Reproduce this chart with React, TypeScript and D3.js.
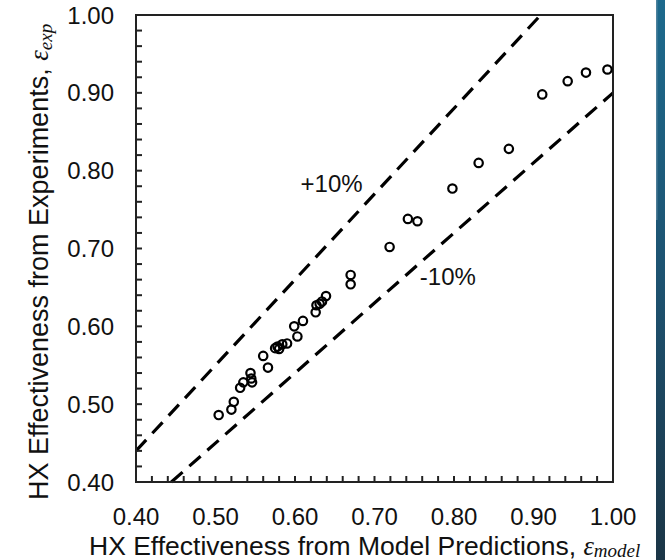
import React from "react";
import * as d3 from "d3";

const modelEff = [0.504, 0.52, 0.523, 0.531, 0.535, 0.544, 0.545, 0.546, 0.56, 0.566, 0.575, 0.578, 0.58, 0.584, 0.59, 0.599, 0.603, 0.61, 0.626, 0.627, 0.631, 0.634, 0.639, 0.67, 0.67, 0.719, 0.742, 0.754, 0.798, 0.831, 0.869, 0.911, 0.943, 0.966, 0.993];
const expEff = [0.486, 0.493, 0.503, 0.521, 0.528, 0.54, 0.533, 0.528, 0.562, 0.547, 0.572, 0.574, 0.571, 0.577, 0.578, 0.6, 0.587, 0.607, 0.618, 0.627, 0.629, 0.632, 0.639, 0.666, 0.654, 0.702, 0.738, 0.735, 0.777, 0.81, 0.828, 0.898, 0.915, 0.926, 0.93];
const tickValues = [0.4, 0.5, 0.6, 0.7, 0.8, 0.9, 1.0];
const bandFactors = [1.1, 0.9];
const bandLabels = ["+10%", "-10%"];
const bandLabelAt = [[0.607, 0.773], [0.757, 0.653]];

const W = 665, H = 560;
const L = 136, R = 613, T = 15, B = 482;

export default function App() {
  const x = d3.scaleLinear().domain([0.4, 1.0]).range([L, R]);
  const y = d3.scaleLinear().domain([0.4, 1.0]).range([B, T]);
  const minor = d3.range(0.42, 1.0, 0.02);
  const font = "'Liberation Sans', Arial, sans-serif";
  const serif = "'Liberation Serif', 'DejaVu Serif', serif";
  const line = d3.line<[number, number]>().x((d) => x(d[0])).y((d) => y(d[1]));
  const bandSegs = bandFactors.map((f) => {
    const x0 = Math.max(0.4, 0.4 / f);
    const x1 = Math.min(1.0, 1.0 / f);
    return [[x0, x0 * f], [x1, x1 * f]] as [number, number][];
  });
  return (
    <svg width={W} height={H} style={{ position: "absolute", left: 0, top: 0, background: "#fff" }}>
      <defs>
        <linearGradient id="stripe" x1="0" y1="0" x2="0" y2="1">
          <stop offset="0" stopColor="#1d6a8d" />
          <stop offset="0.5" stopColor="#1d5270" />
          <stop offset="1" stopColor="#1b3546" />
        </linearGradient>
      </defs>
      <rect x={656} y={0} width={9} height={H} fill="url(#stripe)" />
      <rect x={656} y={0} width={1.5} height={220} fill="#6d93aa" opacity={0.6} />
      {bandSegs.map((s, i) => (
        <path key={i} d={line(s) || ""} fill="none" stroke="#000" strokeWidth={3.2} strokeDasharray="15,9" />
      ))}
      {minor.map((v, i) => (
        <g key={i}>
          <line x1={L} x2={L + 6} y1={y(v)} y2={y(v)} stroke="#222" strokeWidth={2} />
          <line x1={x(v)} x2={x(v)} y1={B} y2={B - 6} stroke="#222" strokeWidth={2} />
        </g>
      ))}
      <rect x={L} y={T} width={R - L} height={B - T} fill="none" stroke="#222" strokeWidth={2} />
      {modelEff.map((m, i) => (
        <circle key={i} cx={x(m)} cy={y(expEff[i])} r={4.2} fill="none" stroke="#000" strokeWidth={2.2} />
      ))}
      {tickValues.map((v, i) => (
        <text key={"y" + i} x={114} y={y(v)} dy="0.36em" textAnchor="end" fontFamily={font} fontSize={24} fill="#111">
          {d3.format(".2f")(v)}
        </text>
      ))}
      {tickValues.map((v, i) => (
        <text key={"x" + i} x={x(v)} y={525} textAnchor="middle" fontFamily={font} fontSize={24} fill="#111">
          {d3.format(".2f")(v)}
        </text>
      ))}
      {bandLabels.map((t, i) => (
        <text key={"b" + i} x={x(bandLabelAt[i][0])} y={y(bandLabelAt[i][1])} fontFamily={font} fontSize={24} fill="#111">
          {t}
        </text>
      ))}
      <text x={89} y={555} fontFamily={font} fontSize={26.5} fill="#111">
        HX Effectiveness from Model Predictions,{" "}
        <tspan fontFamily={serif} fontStyle="italic">ε</tspan>
        <tspan fontFamily={serif} fontStyle="italic" dy={2} fontSize={19}>model</tspan>
      </text>
      <text transform="translate(48,500) rotate(-90)" fontFamily={font} fontSize={27} fill="#111">
        HX Effectiveness from Experiments,{" "}
        <tspan fontFamily={serif} fontStyle="italic">ε</tspan>
        <tspan fontFamily={serif} fontStyle="italic" dy={4} fontSize={19}>exp</tspan>
      </text>
    </svg>
  );
}
